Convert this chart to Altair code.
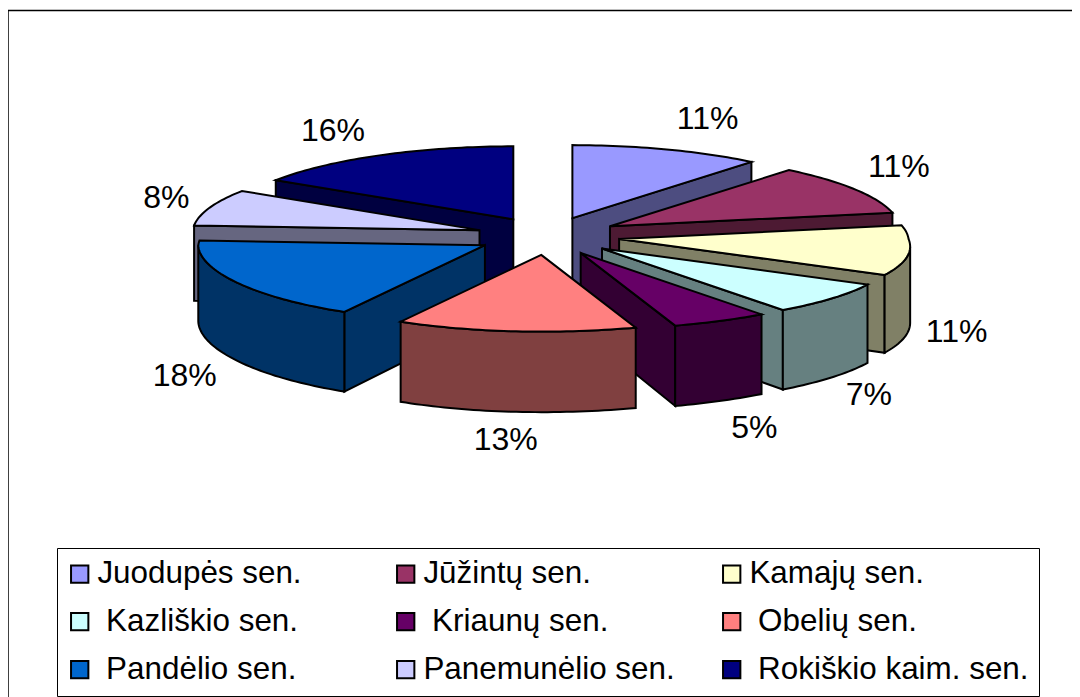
import math
import altair as alt

names = ["Juodupės sen.", "Jūžintų sen.", "Kamajų sen.", "Kazliškio sen.", "Kriaunų sen.",
         "Obelių sen.", "Pandėlio sen.", "Panemunėlio sen.", "Rokiškio kaim. sen."]
shares = [11, 11, 11, 7, 5, 13, 18, 8, 16]
top_colors = ["#9999FF", "#993366", "#FFFFCC", "#CCFFFF", "#660066", "#FF8080", "#0066CC", "#CCCCFF", "#000080"]
wall_colors = ["#4D4D80", "#4D1A33", "#808066", "#668080", "#330033", "#804040", "#003366", "#666680", "#000040"]
wall_order = [8, 0, 7, 1, 2, 3, 6, 4, 5]
spaced = [3, 4, 5, 6, 8]

# layout (plot pixels)
CX, CY = 540, 228
EX, EY = 72, 19
RX, RY = 281, 73
label_off = [(40, -30), (47, -22), (60, 82), (56, 98), (46, 110), (-9, 112), (-54, 96), (-46, -10), (-45, -24)]

# zero-width mark keeps the leading no-break space of these legend entries
legend_names = [("\u200b\u00a0" + n if i in spaced else n) for i, n in enumerate(names)]


def depth(y):
    return 72 + (y + 8 - 160) * 0.05


def rim_point(ax, ay, t):
    """Point of the slightly perspective-distorted rim at angle t."""
    xn, yn = math.sin(t), -math.cos(t)
    s = 1.02 + 0.01 * max(xn, 0) + (yn * (0.05 + 0.06 * xn) if yn > 0 else yn * 0.035)
    v = 1 + 0.05 * max(yn, 0)
    return (ax + RX * xn * s, ay + RY * yn * v)


def poly(pts):
    ring = [list(p) for p in pts]
    ring.append(ring[0])
    return {"type": "Polygon", "coordinates": [ring]}


tops, walls, labels = [], {}, []
cum = 0
for i, v in enumerate(shares):
    a0 = math.radians(cum * 3.6)
    a1 = math.radians((cum + v) * 3.6)
    m = (a0 + a1) / 2
    cum += v
    ax = CX + EX * math.sin(m)
    ay = CY - EY * math.cos(m)
    n = max(6, v * 3)
    arc = [rim_point(ax, ay, a0 + (a1 - a0) * k / n) for k in range(n + 1)]
    apex = (ax, ay)
    tops.append({"type": "Feature", "geometry": poly([apex] + arc), "name": legend_names[i]})

    parts = []
    for p, q in ((apex, arc[0]), (arc[-1], apex)):
        if q[0] < p[0]:
            parts.append([p, q])
    chain = []
    for k in range(n):
        if arc[k + 1][0] < arc[k][0]:
            if not chain:
                chain.append(arc[k])
            chain.append(arc[k + 1])
    if chain:
        parts.append(chain)
    walls[i] = []
    for c in parts:
        low = [(x, y + depth(y)) for x, y in reversed(c)]
        walls[i].append({"type": "Feature", "geometry": poly(c + low), "wall": wall_colors[i]})

    ex = ax + RX * math.sin(m)
    ey = ay - RY * math.cos(m)
    labels.append({"lon": ex + label_off[i][0], "lat": ey + label_off[i][1], "text": f"{v}%"})

wall_features = [f for i in wall_order for f in walls[i]]

FONT = "Liberation Sans"
PROJ = dict(type="identity", scale=1, translate=[0, 0])

frame_left = alt.Chart(alt.Data(values=[{"a": 0}])).mark_rule(color="black", strokeWidth=1.5).encode(
    x=alt.value(0), y=alt.value(2.5), y2=alt.value(689))
frame_top = alt.Chart(alt.Data(values=[{"a": 0}])).mark_rule(color="black", strokeWidth=1.5).encode(
    y=alt.value(2.5), x=alt.value(0), x2=alt.value(1064))

wall_layer = alt.Chart(alt.Data(values=wall_features)).mark_geoshape(
    stroke="black", strokeWidth=2, strokeJoin="miter"
).encode(fill=alt.Fill("wall:N", scale=None)).project(**PROJ)

top_layer = alt.Chart(alt.Data(values=tops)).mark_geoshape(
    stroke="black", strokeWidth=2, strokeJoin="miter"
).encode(
    fill=alt.Fill(
        "name:N",
        scale=alt.Scale(domain=legend_names, range=top_colors),
        legend=alt.Legend(
            title=None, orient="none", legendX=49, legendY=540, columns=3, direction="horizontal", gridAlign="all",
            columnPadding=16, rowPadding=15, padding=10,
            symbolType="square", symbolSize=300, symbolStrokeColor="black", symbolStrokeWidth=2, symbolOffset=-3,
            labelFont=FONT, labelFontSize=31.4, labelColor="black", labelLimit=400, labelOffset=2,
            strokeColor="black", fillColor="white", cornerRadius=0,
        ),
    )
).project(**PROJ)

text_layer = alt.Chart(alt.Data(values=labels)).mark_text(
    font=FONT, fontSize=32, color="black", align="center", baseline="middle"
).encode(longitude="lon:Q", latitude="lat:Q", text="text:N").project(**PROJ)

chart = alt.layer(frame_left, frame_top, wall_layer, top_layer, text_layer).properties(
    width=1064, height=689, padding=0, autosize=alt.AutoSizeParams(type="none"),
    background="white",
).configure_view(stroke=None)

chart.save("out.html", embed_options={"renderer": "svg", "actions": False})
